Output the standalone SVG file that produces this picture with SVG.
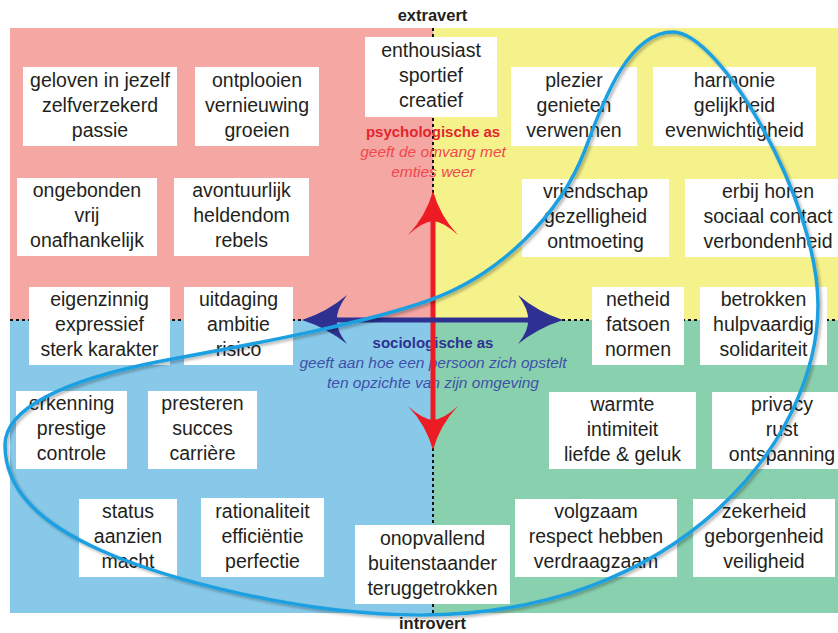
<svg xmlns="http://www.w3.org/2000/svg" width="838" height="633" viewBox="0 0 838 633">
<defs>
<style>
.box{fill:#ffffff}
.t{font-family:"Liberation Sans",Arial,sans-serif;font-size:19.5px;fill:#231f20;text-anchor:middle}
.ax{font-family:"Liberation Sans",Arial,sans-serif;font-size:16.5px;font-weight:bold;fill:#231f20;text-anchor:middle}
.ttl{font-family:"Liberation Sans",Arial,sans-serif;font-size:15px;font-weight:bold;text-anchor:middle}
.it{font-family:"Liberation Sans",Arial,sans-serif;font-size:15.5px;font-style:italic;text-anchor:middle}
.dash{stroke:#111;stroke-width:2;stroke-dasharray:3 3;fill:none}
</style>
<filter id="sh" x="-5%" y="-5%" width="110%" height="110%">
<feDropShadow dx="2" dy="2" stdDeviation="1.5" flood-color="#000" flood-opacity="0.3"/>
</filter>
</defs>
<rect width="838" height="633" fill="#ffffff"/>
<g id="quadrants">
<rect x="10" y="28" width="423" height="292" fill="#f4a7a3"/>
<rect x="433" y="28" width="405" height="292" fill="#f6f28b"/>
<rect x="10" y="320" width="423" height="293" fill="#88c9e9"/>
<rect x="433" y="320" width="405" height="293" fill="#89d0af"/>
</g>
<g id="axis-lines">
<line class="dash" x1="10" y1="320" x2="838" y2="320"/>
<line class="dash" x1="433" y1="28" x2="433" y2="613"/>
</g>
<g id="axis-labels">
<text class="ax" x="432.5" y="21">extravert</text>
<text class="ax" x="432.5" y="629">introvert</text>
<text class="ttl" x="433" y="137" fill="#e3262d">psychologische as</text>
<text class="it" x="433" y="157" fill="#f0484e">geeft de omvang met</text>
<text class="it" x="433" y="177" fill="#f0484e">emties weer</text>
<text class="ttl" x="433" y="348" fill="#2e3192">sociologische as</text>
<text class="it" x="433" y="368" fill="#3f50a8">geeft aan hoe een persoon zich opstelt</text>
<text class="it" x="433" y="388" fill="#3f50a8">ten opzichte van zijn omgeving</text>
</g>
<g id="nodes">
<g id="n-geloven"><rect class="box" x="23" y="67" width="154" height="79"/><text class="t" x="100" y="86.5">geloven in jezelf</text><text class="t" x="100" y="111.5">zelfverzekerd</text><text class="t" x="100" y="136.5">passie</text></g>
<g id="n-ontplooien"><rect class="box" x="195" y="67" width="124" height="79"/><text class="t" x="257" y="86.5">ontplooien</text><text class="t" x="257" y="111.5">vernieuwing</text><text class="t" x="257" y="136.5">groeien</text></g>
<g id="n-enthousiast"><rect class="box" x="365" y="37" width="132" height="80"/><text class="t" x="431" y="57">enthousiast</text><text class="t" x="431" y="82">sportief</text><text class="t" x="431" y="107">creatief</text></g>
<g id="n-plezier"><rect class="box" x="511" y="67" width="126" height="79"/><text class="t" x="574" y="86.5">plezier</text><text class="t" x="574" y="111.5">genieten</text><text class="t" x="574" y="136.5">verwennen</text></g>
<g id="n-harmonie"><rect class="box" x="653" y="67" width="163" height="79"/><text class="t" x="734.5" y="86.5">harmonie</text><text class="t" x="734.5" y="111.5">gelijkheid</text><text class="t" x="734.5" y="136.5">evenwichtigheid</text></g>
<g id="n-ongebonden"><rect class="box" x="17" y="178" width="140" height="78"/><text class="t" x="87" y="197">ongebonden</text><text class="t" x="87" y="222">vrij</text><text class="t" x="87" y="247">onafhankelijk</text></g>
<g id="n-avontuurlijk"><rect class="box" x="174" y="178" width="135" height="78"/><text class="t" x="241.5" y="197">avontuurlijk</text><text class="t" x="241.5" y="222">heldendom</text><text class="t" x="241.5" y="247">rebels</text></g>
<g id="n-vriendschap"><rect class="box" x="522" y="179" width="147" height="78"/><text class="t" x="595.5" y="198">vriendschap</text><text class="t" x="595.5" y="223">gezelligheid</text><text class="t" x="595.5" y="248">ontmoeting</text></g>
<g id="n-erbijhoren"><rect class="box" x="685" y="179" width="166" height="78"/><text class="t" x="768" y="198">erbij horen</text><text class="t" x="768" y="223">sociaal contact</text><text class="t" x="768" y="248">verbondenheid</text></g>
<g id="n-eigenzinnig"><rect class="box" x="29" y="287" width="141" height="78"/><text class="t" x="99.5" y="306">eigenzinnig</text><text class="t" x="99.5" y="331">expressief</text><text class="t" x="99.5" y="356">sterk karakter</text></g>
<g id="n-uitdaging"><rect class="box" x="184" y="287" width="109" height="78"/><text class="t" x="238.5" y="306">uitdaging</text><text class="t" x="238.5" y="331">ambitie</text><text class="t" x="238.5" y="356">risico</text></g>
<g id="n-netheid"><rect class="box" x="592" y="287" width="92" height="78"/><text class="t" x="638" y="306">netheid</text><text class="t" x="638" y="331">fatsoen</text><text class="t" x="638" y="356">normen</text></g>
<g id="n-betrokken"><rect class="box" x="700" y="287" width="127" height="78"/><text class="t" x="763.5" y="306">betrokken</text><text class="t" x="763.5" y="331">hulpvaardig</text><text class="t" x="763.5" y="356">solidariteit</text></g>
<g id="n-erkenning"><rect class="box" x="16" y="391" width="111" height="78"/><text class="t" x="71.5" y="410">erkenning</text><text class="t" x="71.5" y="435">prestige</text><text class="t" x="71.5" y="460">controle</text></g>
<g id="n-presteren"><rect class="box" x="148" y="391" width="109" height="78"/><text class="t" x="202.5" y="410">presteren</text><text class="t" x="202.5" y="435">succes</text><text class="t" x="202.5" y="460">carrière</text></g>
<g id="n-warmte"><rect class="box" x="549" y="392" width="147" height="77"/><text class="t" x="622.5" y="410.5">warmte</text><text class="t" x="622.5" y="435.5">intimiteit</text><text class="t" x="622.5" y="460.5">liefde &amp; geluk</text></g>
<g id="n-privacy"><rect class="box" x="712" y="392" width="140" height="77"/><text class="t" x="782" y="410.5">privacy</text><text class="t" x="782" y="435.5">rust</text><text class="t" x="782" y="460.5">ontspanning</text></g>
<g id="n-status"><rect class="box" x="79" y="499" width="98" height="78"/><text class="t" x="128" y="518">status</text><text class="t" x="128" y="543">aanzien</text><text class="t" x="128" y="568">macht</text></g>
<g id="n-rationaliteit"><rect class="box" x="201" y="498" width="123" height="79"/><text class="t" x="262.5" y="517.5">rationaliteit</text><text class="t" x="262.5" y="542.5">efficiëntie</text><text class="t" x="262.5" y="567.5">perfectie</text></g>
<g id="n-onopvallend"><rect class="box" x="355" y="525" width="155" height="79"/><text class="t" x="432.5" y="544.5">onopvallend</text><text class="t" x="432.5" y="569.5">buitenstaander</text><text class="t" x="432.5" y="594.5">teruggetrokken</text></g>
<g id="n-volgzaam"><rect class="box" x="515" y="499" width="162" height="78"/><text class="t" x="596" y="518">volgzaam</text><text class="t" x="596" y="543">respect hebben</text><text class="t" x="596" y="568">verdraagzaam</text></g>
<g id="n-zekerheid"><rect class="box" x="693" y="499" width="142" height="78"/><text class="t" x="764" y="518">zekerheid</text><text class="t" x="764" y="543">geborgenheid</text><text class="t" x="764" y="568">veiligheid</text></g>
</g>
<g id="connectors">
<g id="psychologische-as" fill="#ed1c24">
<rect x="430.5" y="218" width="5" height="204"/>
<path d="M433,191 Q440,216 458,235 Q444,222 433,221 Q422,222 408,235 Q426,216 433,191 Z"/>
<path d="M433,450 Q440,425 458,406 Q444,419 433,420 Q422,419 408,406 Q426,425 433,450 Z"/>
</g>
<g id="sociologische-as" fill="#2e3192">
<rect x="334" y="317.5" width="197" height="5"/>
<path d="M302,320 Q327,312 347,295 Q336,310 337,320 Q336,330 347,344 Q327,328 302,320 Z"/>
<path d="M563,320 Q538,312 518,295 Q529,310 528,320 Q529,330 518,344 Q538,328 563,320 Z"/>
</g>
<path id="loop" filter="url(#sh)" fill="none" stroke="#1ba0e1" stroke-width="3.5" d="M673,32 C720,32 818,200 818,305 C818,440 680,615 420,615 C300,615 165,579 100,550 C40,523 5,490 5,445 C5,410 60,380 167,360 C260,343 370,322 430,300 C500,275 560,215 585,150 C605,95 630,32 673,32 Z"/>
</g>
</svg>
